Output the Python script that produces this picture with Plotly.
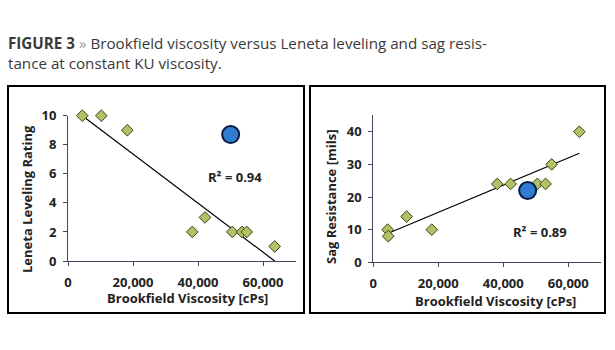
import plotly.graph_objects as go

W, H = 615, 350

# ---- data ----
lev_x = [4400, 10250, 18250, 38250, 42150, 50560, 53540, 55000, 63600]
lev_y = [10, 10, 9, 2, 3, 2, 2, 2, 1]
lev_hl_x = [50050]
lev_hl_y = [8.7]
lev_trend_x = [4400, 63600]
lev_trend_y = [10, 0]
lev_r2 = "R² = 0.94"

sag_x = [4400, 4600, 10250, 18000, 38150, 42250, 50460, 53000, 54870, 63400]
sag_y = [10, 8, 14, 10, 24, 24, 24, 24, 30, 40]
sag_hl_x = [47500]
sag_hl_y = [22]
sag_trend_x = [4600, 63400]
sag_trend_y = [8.9, 33.4]
sag_r2 = "R² = 0.89"

x_ticks = [0, 20000, 40000, 60000]
lev_ticks = [0, 2, 4, 6, 8, 10]
sag_ticks = [0, 10, 20, 30, 40]

FONT = "Open Sans"
DIAMOND_FILL = "#afc266"
DIAMOND_LINE = "#3b4416"
BLUE_FILL = "#2e7dd0"
BLUE_LINE = "#0b1a44"
AXIS_COLOR = "#44465e"


def px(x):
    return x / W


def py(y):
    return 1 - y / H


fig = go.Figure()


def add_panel(xs, ys, hx, hy, tx, ty, xa, ya):
    fig.add_trace(go.Scatter(x=tx, y=ty, mode="lines", xaxis=xa, yaxis=ya,
                             line=dict(color="black", width=1.2), showlegend=False, hoverinfo="skip"))
    fig.add_trace(go.Scatter(x=xs, y=ys, mode="markers", xaxis=xa, yaxis=ya, cliponaxis=False,
                             marker=dict(symbol="diamond", size=9, color=DIAMOND_FILL,
                                         line=dict(color=DIAMOND_LINE, width=1)),
                             showlegend=False))
    fig.add_trace(go.Scatter(x=hx, y=hy, mode="markers", xaxis=xa, yaxis=ya, cliponaxis=False,
                             marker=dict(symbol="circle", size=17, color=BLUE_FILL,
                                         line=dict(color=BLUE_LINE, width=2)),
                             showlegend=False))


add_panel(lev_x, lev_y, lev_hl_x, lev_hl_y, lev_trend_x, lev_trend_y, "x", "y")
add_panel(sag_x, sag_y, sag_hl_x, sag_hl_y, sag_trend_x, sag_trend_y, "x2", "y2")

tickfont = dict(family=FONT, size=13, color="#222222", weight="bold")
xcommon = dict(range=[0, 70000], tickvals=x_ticks, tickformat=",d", showgrid=False, zeroline=False,
               showline=True, linecolor=AXIS_COLOR, linewidth=1, ticks="outside", ticklen=4,
               tickcolor=AXIS_COLOR, tickfont=tickfont, ticklabelstandoff=5, automargin=False)
ycommon = dict(showgrid=False, zeroline=False, showline=True, linecolor=AXIS_COLOR, linewidth=1,
               ticks="outside", ticklen=4, tickcolor=AXIS_COLOR, tickfont=tickfont, ticklabelstandoff=4,
               automargin=False)

fig.update_layout(
    width=W, height=H, margin=dict(l=0, r=0, t=0, b=0, autoexpand=False),
    paper_bgcolor="white", plot_bgcolor="white",
    xaxis=dict(domain=[px(68), px(295.5)], anchor="y", **xcommon),
    yaxis=dict(domain=[py(261), py(115.7)], anchor="x", range=[0, 10], tickvals=lev_ticks, **ycommon),
    xaxis2=dict(domain=[px(373.3), px(600.8)], anchor="y2", **xcommon),
    yaxis2=dict(domain=[py(262.3), py(115.4)], anchor="x2", range=[0, 45], tickvals=sag_ticks, **ycommon),
)

# panel frames
for x0, x1 in [(8, 304), (310, 605)]:
    fig.add_shape(type="rect", xref="paper", yref="paper", x0=px(x0), x1=px(x1), y0=py(313), y1=py(86),
                  line=dict(color="black", width=2), fillcolor="rgba(0,0,0,0)", layer="above")

labfont = dict(family=FONT, size=13, color="#222222", weight="bold")

# axis titles
fig.add_annotation(text="Brookfield Viscosity [cPs]", x=px(187), y=py(298), xref="paper", yref="paper",
                   showarrow=False, font=labfont, xanchor="center", yanchor="middle")
fig.add_annotation(text="Brookfield Viscosity [cPs]", x=px(495), y=py(301), xref="paper", yref="paper",
                   showarrow=False, font=labfont, xanchor="center", yanchor="middle")
fig.add_annotation(text="Leneta Leveling Rating", x=px(27), y=py(199), xref="paper", yref="paper",
                   showarrow=False, font=labfont, textangle=-90, xanchor="center", yanchor="middle")
fig.add_annotation(text="Sag Resistance [mils]", x=px(331), y=py(197), xref="paper", yref="paper",
                   showarrow=False, font=labfont, textangle=-90, xanchor="center", yanchor="middle")

# R² labels
fig.add_annotation(text=lev_r2, x=51280, y=5.8, xref="x", yref="y", showarrow=False, font=labfont)
fig.add_annotation(text=sag_r2, x=51280, y=9.2, xref="x2", yref="y2", showarrow=False, font=labfont)

# caption
fig.add_annotation(
    text="<b>FIGURE 3</b> <span style='color:#9a9a9a'>»</span> Brookfield viscosity versus Leneta leveling and sag resis-<br>tance at constant KU viscosity.",
    x=px(6), y=py(31), xref="paper", yref="paper", showarrow=False, xanchor="left", yanchor="top",
    align="left", font=dict(family=FONT, size=15.2, color="#3a3a3a"))

fig.write_html("out.html")
